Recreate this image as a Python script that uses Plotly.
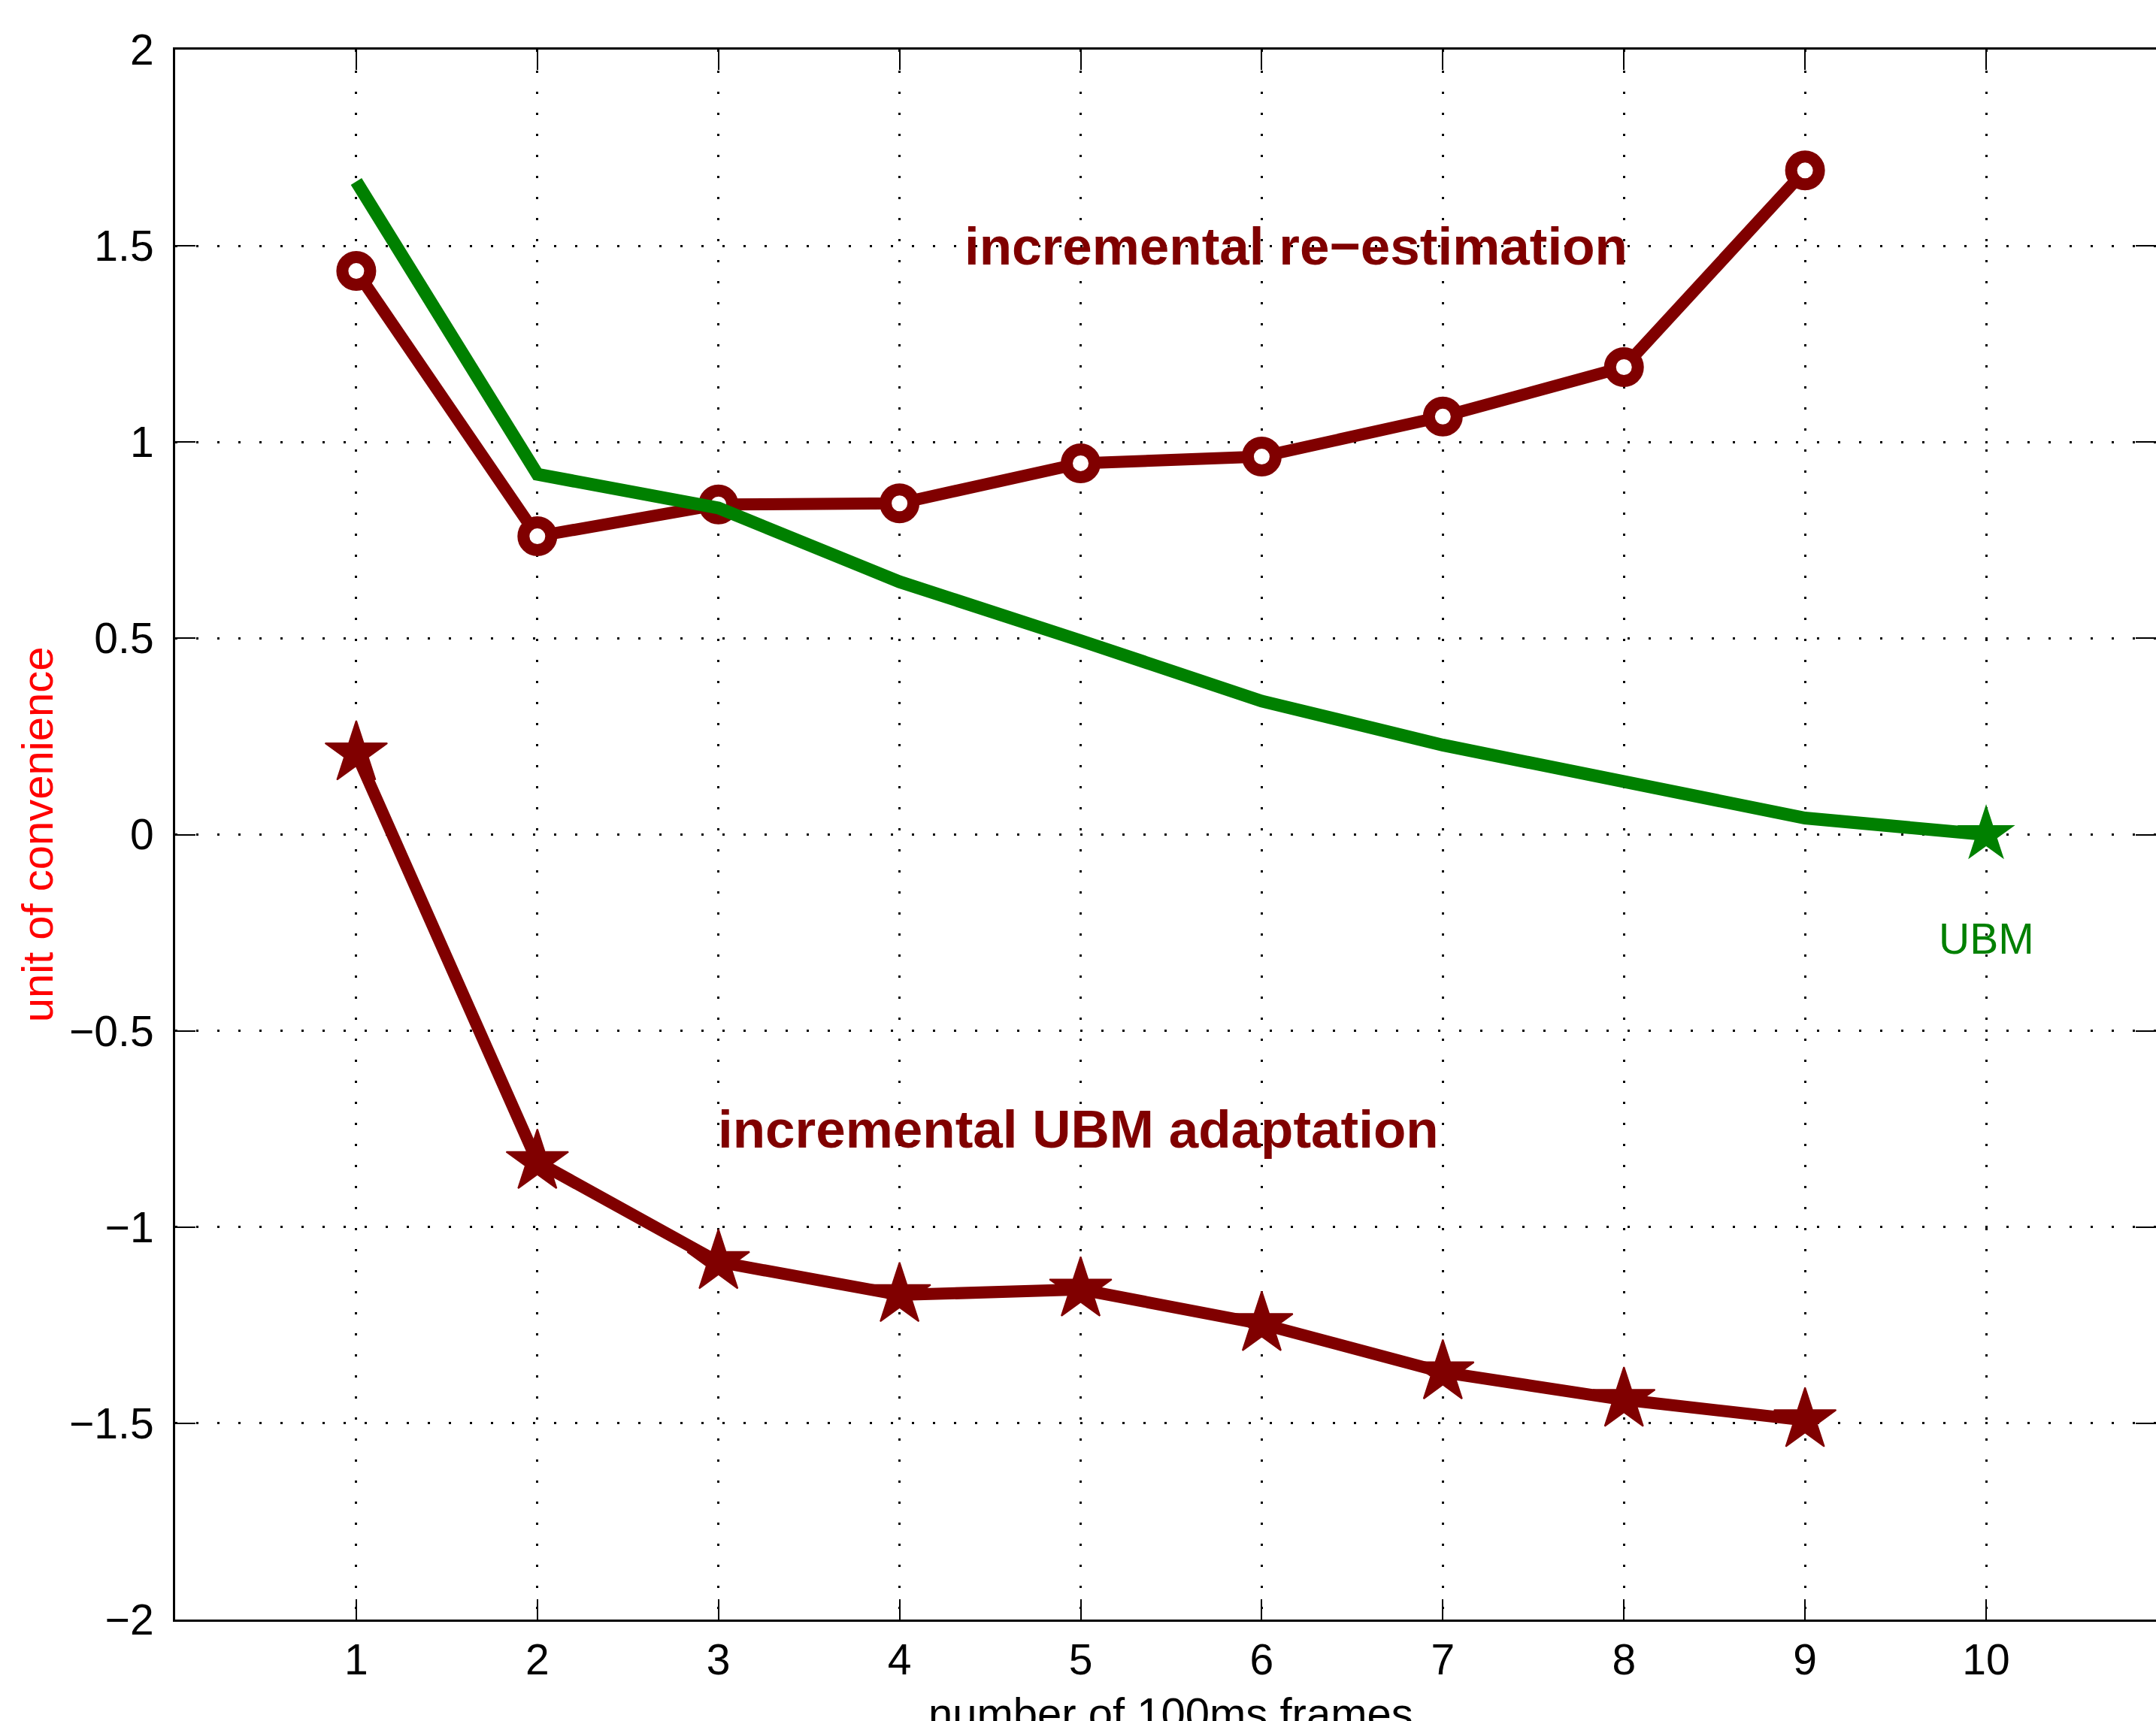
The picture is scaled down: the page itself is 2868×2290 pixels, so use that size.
import plotly.graph_objects as go

# ---- data ----
frames = [1, 2, 3, 4, 5, 6, 7, 8, 9]
reestimation = [1.436, 0.760, 0.841, 0.844, 0.946, 0.963, 1.065, 1.191, 1.692]
ubm_adaptation = [0.207, -0.834, -1.089, -1.173, -1.159, -1.247, -1.370, -1.440, -1.492]
ubm_frames = [1, 2, 3, 4, 5, 6, 7, 8, 9, 10]
ubm_curve = [1.664, 0.918, 0.832, 0.644, 0.494, 0.340, 0.228, 0.133, 0.042, 0.0]

x_ticks = [1, 2, 3, 4, 5, 6, 7, 8, 9, 10]
y_ticks = [-2, -1.5, -1, -0.5, 0, 0.5, 1, 1.5, 2]

DARK_RED = "#800000"
GREEN = "#008000"
FONT = "Liberation Sans, Arial, Helvetica, sans-serif"

fig = go.Figure()

# green UBM curve (line), star only on the last point
fig.add_trace(go.Scatter(
    x=ubm_frames, y=ubm_curve, mode="lines",
    line=dict(color=GREEN, width=17), yaxis="y2",
    showlegend=False, hoverinfo="skip"))
fig.add_trace(go.Scatter(
    x=ubm_frames[-1:], y=ubm_curve[-1:], mode="markers",
    marker=dict(symbol="star", size=58, color=GREEN, line=dict(width=0)),
    showlegend=False, hoverinfo="skip"))

# incremental re-estimation (circles)
fig.add_trace(go.Scatter(
    x=frames, y=reestimation, mode="lines+markers",
    line=dict(color=DARK_RED, width=16),
    marker=dict(symbol="circle", size=37, color="white",
                line=dict(color=DARK_RED, width=16)),
    showlegend=False, hoverinfo="skip"))

# incremental UBM adaptation (stars)
fig.add_trace(go.Scatter(
    x=frames, y=ubm_adaptation, mode="lines+markers",
    line=dict(color=DARK_RED, width=16),
    marker=dict(symbol="star", size=62, color=DARK_RED,
                line=dict(color=DARK_RED, width=2)),
    showlegend=False, hoverinfo="skip"))

grid_common = dict(showgrid=True, gridcolor="black", griddash="3px,25px", gridwidth=3)

fig.update_layout(
    width=2868, height=2290,
    margin=dict(l=233, r=0, t=66, b=135, pad=0),
    paper_bgcolor="white", plot_bgcolor="white",
    font=dict(family=FONT, size=57, color="black"),
    xaxis=dict(range=[0, 10.938], tickmode="array", tickvals=x_ticks,
               ticktext=[str(v) for v in x_ticks],
               ticks="inside", ticklen=27, tickwidth=2, tickcolor="black",
               showline=True, linecolor="black", linewidth=3, mirror="ticks",
               zeroline=False, tickfont=dict(size=57), ticklabelstandoff=2,
               **grid_common),
    yaxis=dict(range=[-2, 2], tickmode="array", tickvals=y_ticks,
               ticks="inside", ticklen=27, tickwidth=2, tickcolor="black",
               showline=True, linecolor="black", linewidth=3, mirror=False,
               zeroline=False, tickfont=dict(size=57), ticklabelstandoff=14,
               **grid_common),
    yaxis2=dict(matches="y", overlaying="y", side="right", range=[-2, 2],
                tickmode="array", tickvals=y_ticks,
                ticks="inside", ticklen=27, tickwidth=2, tickcolor="black",
                showticklabels=False, showgrid=False, showline=False,
                zeroline=False),
    annotations=[
        dict(text="<b>incremental re\u2212estimation</b>", x=4.35, y=1.50,
             xref="x", yref="y", xanchor="left", yanchor="middle",
             showarrow=False, font=dict(size=71, color=DARK_RED, family=FONT)),
        dict(text="<b>incremental UBM adaptation</b>", x=2.99, y=-0.75,
             xref="x", yref="y", xanchor="left", yanchor="middle",
             showarrow=False, font=dict(size=71, color=DARK_RED, family=FONT)),
        dict(text="UBM", x=10, y=-0.266, xref="x", yref="y",
             xanchor="center", yanchor="middle", showarrow=False,
             font=dict(size=57, color=GREEN, family=FONT)),
        dict(text="unit of convenience", x=-0.0695, y=0.5,
             xref="paper", yref="paper", xanchor="center", yanchor="middle",
             textangle=-90, showarrow=False,
             font=dict(size=58, color="red", family=FONT)),
        dict(text="number of 100ms frames", x=5.5, y=-0.043,
             xref="x", yref="paper", xanchor="center", yanchor="top",
             showarrow=False, font=dict(size=58, color="black", family=FONT)),
    ],
)

fig.write_html("out.html")
